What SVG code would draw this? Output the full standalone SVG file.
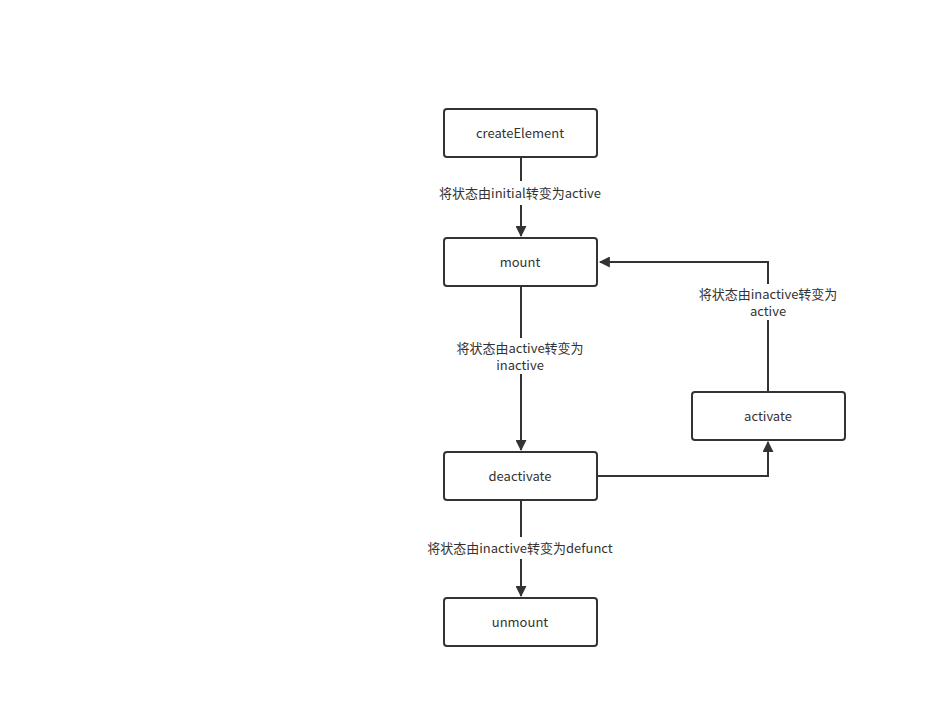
<svg xmlns="http://www.w3.org/2000/svg" width="928" height="708" viewBox="0 0 928 708">
<style>
.box{fill:#fff;stroke:#333;stroke-width:2}
.t{font-family:"Noto Sans CJK SC","Liberation Sans",sans-serif;font-size:13px;fill:#333;text-anchor:middle}
.e{fill:none;stroke:#333;stroke-width:2}
.lb{fill:#fff}
</style>
<defs>
<marker id="a" viewBox="0 0 10 10" refX="9" refY="5" markerWidth="6" markerHeight="5.5" orient="auto" markerUnits="strokeWidth">
<path d="M0,0 L10,5 L0,10 Z" fill="#333"/>
</marker>
</defs>
<rect width="928" height="708" fill="#fff"/>
<g id="connectors">
<path class="e" d="M521,157 V236" marker-end="url(#a)"/>
<path class="e" d="M521,286 V450" marker-end="url(#a)"/>
<path class="e" d="M521,500 V596" marker-end="url(#a)"/>
<path class="e" d="M597,476 H768 V442" marker-end="url(#a)"/>
<path class="e" d="M768,392 V262 H600" marker-end="url(#a)"/>
<rect class="lb" x="437" y="181" width="168" height="24"/>
<text class="t" x="520" y="198">将状态由initial转变为active</text>
<rect class="lb" x="454" y="338" width="134" height="36"/>
<text class="t" x="520" y="353">将状态由active转变为</text>
<text class="t" x="520" y="370">inactive</text>
<rect class="lb" x="424" y="537" width="194" height="22"/>
<text class="t" x="520" y="553">将状态由inactive转变为defunct</text>
<rect class="lb" x="696" y="284" width="144" height="36"/>
<text class="t" x="768" y="299">将状态由inactive转变为</text>
<text class="t" x="768" y="316">active</text>
</g>
<g id="createElement"><rect class="box" x="444" y="109" width="153" height="48" rx="3"/><text class="t" x="520" y="138">createElement</text></g>
<g id="mount"><rect class="box" x="444" y="238" width="153" height="48" rx="3"/><text class="t" x="520" y="267">mount</text></g>
<g id="deactivate"><rect class="box" x="444" y="452" width="153" height="48" rx="3"/><text class="t" x="520" y="481">deactivate</text></g>
<g id="unmount"><rect class="box" x="444" y="598" width="153" height="48" rx="3"/><text class="t" x="520" y="627">unmount</text></g>
<g id="activate"><rect class="box" x="692" y="392" width="153" height="48" rx="3"/><text class="t" x="768" y="421">activate</text></g>
</svg>
